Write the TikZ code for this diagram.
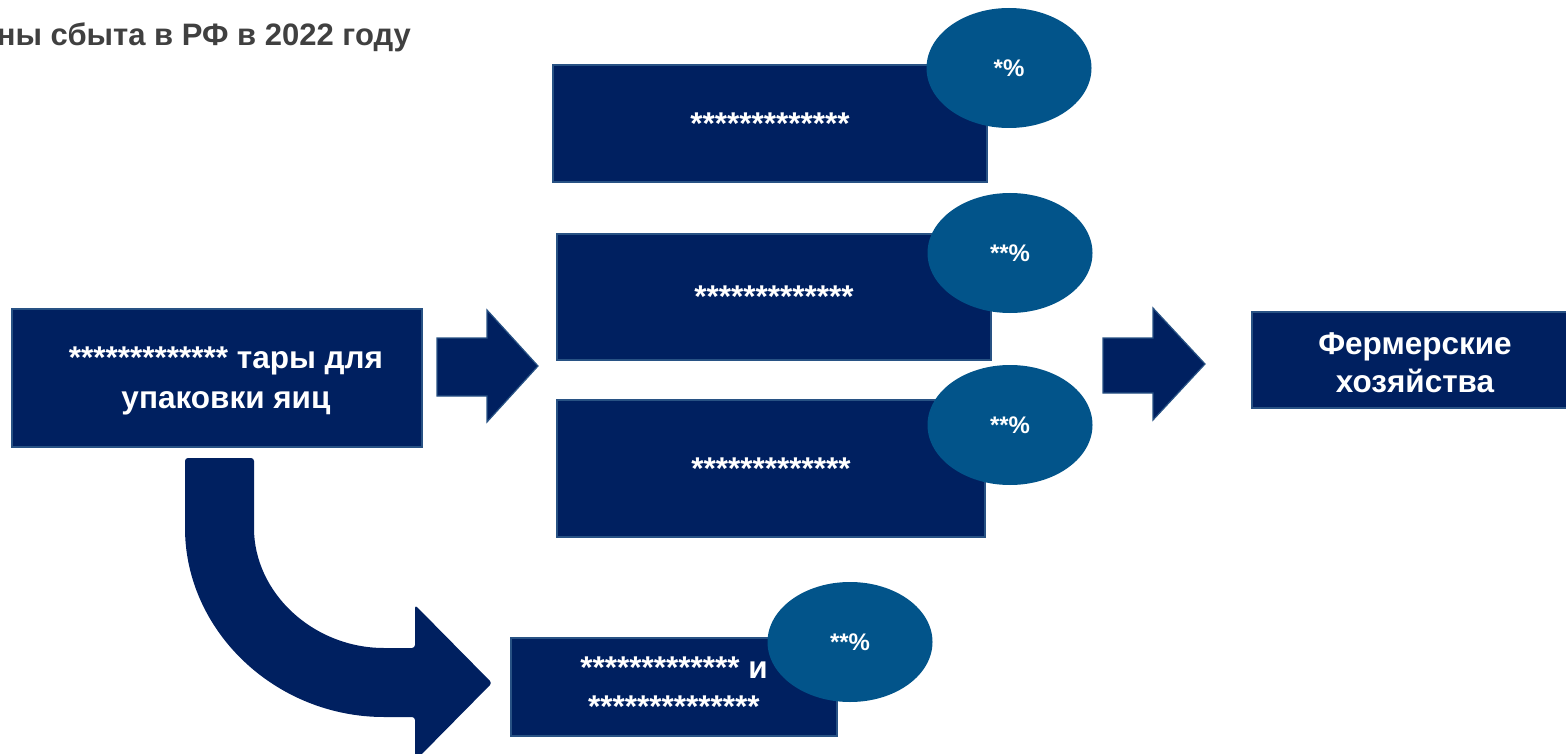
\documentclass[tikz,border=0pt]{standalone}
\usepackage{fontspec}
\setmainfont{Liberation Sans}
\usetikzlibrary{positioning,shapes.geometric}

\definecolor{navy}{RGB}{0,32,96}
\definecolor{edgeblue}{RGB}{40,82,132}
\definecolor{ovalblue}{RGB}{2,84,138}
\definecolor{titlegray}{RGB}{64,64,64}

\tikzset{
  box/.style={fill=navy, draw=edgeblue, line width=1.2pt, text=white,
    font=\bfseries\fontsize{31.5}{39}\selectfont, align=center, inner sep=0pt},
  share/.style={ellipse, fill=ovalblue, text=white, inner sep=0pt,
    font=\bfseries\fontsize{24}{28}\selectfont,
    minimum width=165pt, minimum height=120pt},
  blockarrow/.style={fill=navy, draw=edgeblue, line width=1.2pt},
}

\begin{document}
\begin{tikzpicture}[x=1pt,y=-1pt]
    \useasboundingbox (0,0) rectangle (1566,754);

    % --- title ---
    \node[anchor=east, inner sep=0pt, text=titlegray,
      font=\bfseries\fontsize{31}{36}\selectfont] (title) at (411,37)
      {ны сбыта в РФ в 2022 году};

    % --- producer ---
    \node[box, minimum width=410pt, minimum height=138pt] (src) at (217,378) {};
    \node[box, draw=none, fill=none, font=\bfseries\fontsize{31.5}{40}\selectfont]
      (srctext) at ([xshift=9pt,yshift=-3pt]src.center)
      {************* тары для\\упаковки яиц};

    % --- channels ---
    \begin{scope}[every node/.append style={box}]
      \node[minimum width=434pt, minimum height=117pt] (ch1) at (770,123.5) {*************};
      \node[minimum width=434pt, minimum height=126pt] (ch2) at (774,297) {*************};
      \node[minimum width=428pt, minimum height=137pt] (ch3) at (771,468.5) {*************};
      \node[minimum width=326pt, minimum height=98pt] (ch4) at (674,687)
        {************* и\\**************};
    \end{scope}

    % --- shares ---
    \node[share] (s1) at (1009,68) {*\%};
    \node[share] (s2) at (1010,253) {**\%};
    \node[share] (s3) at (1010,425) {**\%};
    \node[share] (s4) at (850,642) {**\%};

    % --- farms ---
    \node[box, minimum width=326pt, minimum height=96pt] (farm) at (1415,360) {};
    \node[box, draw=none, fill=none, font=\bfseries\fontsize{31.5}{38}\selectfont]
      (farmtext) at ([yshift=-3pt]farm.center) {Фермерские\\хозяйства};

    % --- block arrows ---
    \filldraw[blockarrow] (437,338) -- (487,338) -- (487,310) -- (538,366)
      -- (487,422) -- (487,396) -- (437,396) -- cycle;
    \filldraw[blockarrow] (1103,338) -- (1153,338) -- (1153,308) -- (1205,364)
      -- (1153,420) -- (1153,393) -- (1103,393) -- cycle;

    % curved arrow down to the bottom channel
    \fill[navy, rounded corners=3pt] (185,458) -- (254,458) -- (254,525)
      .. controls (254,593) and (313.5,648) .. (387,648)
      -- (415,648) -- (415,605) -- (492,683) -- (415,761) -- (415,717) -- (387,717)
      .. controls (275.4,717) and (185,631) .. (185,525) -- cycle;

\end{tikzpicture}
\end{document}
